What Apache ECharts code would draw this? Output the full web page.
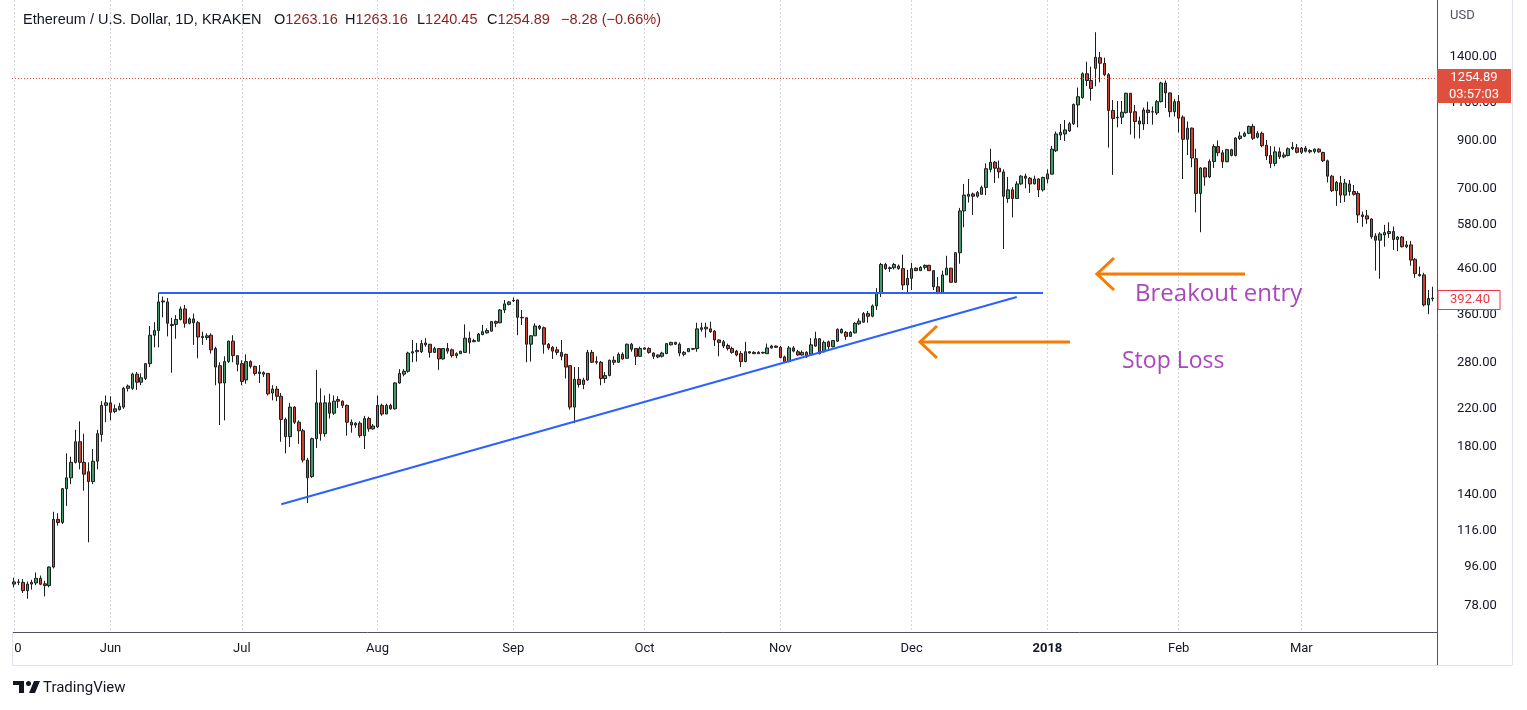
<!DOCTYPE html>
<html><head><meta charset="utf-8">
<script src="https://cdn.jsdelivr.net/npm/echarts@6/dist/echarts.min.js"></script>
<style>
html,body{margin:0;padding:0;background:#fff;width:1527px;height:710px;overflow:hidden;}
#chart{position:absolute;left:12px;top:0;width:1515px;height:710px;}
</style></head><body><div id="chart"></div>
<script>
// ---------------- DATA (ETH/USD daily, Kraken) : [open, close, low, high] ----------------
const firstDate = '2017-05-10';
const skippedDates = ['2018-01-11']; // no bar (exchange outage)
const may17 = [[87.5,88.5,86,90.5],[88.5,88.3,87,89.8],[88.3,84.5,83.5,89.8],[84.5,87.5,81,88.7],[87.5,88.3,85,89.5],[88,90.2,87,93],[90.2,87.4,87,91.5],[87.6,86.8,82,89],[86.8,95.7,86,96],[95.7,123,95,128],[123,121,119,127],[121,144.5,120,145],[144.5,153,132,174],[153,166,148,171],[166,185,165,197],[185,166,160,206],[166,156,143,193],[158,150,109,166],[150,167,148,178],[167,193,160,197],[192,224,185,229],[224,227,205,236]];
const jun17 = [[227,216,207,235],[217,220,215,225],[219,223,218,227],[222,245,220,247],[245,248,241,250],[245,264,243,266],[264,253,243,267],[253,259,249,265],[258,279,256,280],[279,324,274,340],[324,332,304,347],[332,386,304,405],[386,388,356,397],[386,345,322,394],[341,343,266,355],[343,352,318,360],[352,372,350,377],[372,345,337,380],[345,353,343,356],[353,346,308,363],[346,321,287,349],[322,320,308,330],[320,323,316,327],[324,300,294,327],[302,274,249,305],[276,252,202,281],[252,282,207,290],[282,314,280,315],[314,291,281,324],[291,278,268,291]];
const jul17 = [[279,254,249,284],[256,282,251,293],[282,275,272,284],[275,265,262,276],[267,265,252,277],[264,266,260,268],[265,238,236,265],[239,244,230,249],[244,235,229,248],[235,208,185,239],[208,190,174,210],[190,222,180,227],[222,205,203,223],[205,196,183,207],[196,168,166,198],[168,153,134,170],[154,188,153,189],[188,227,179,270],[227,193,186,245],[193,227,190,236],[227,215,209,238],[215,229,213,236],[231,229,221,235],[229,224,221,230],[224,205,191,225],[205,202,194,208],[202,204,199,205],[204,191,189,206],[191,209,178,212],[209,198,195,211],[198,201,197,203]];
const aug17 = [[200,224,199,236],[224,214,212,226],[214,224,214,226],[224,220,219,226],[220,252,219,253],[252,265,251,271],[264,268,261,271],[268,295,266,297],[295,297,281,316],[297,299,282,311],[297,310,295,316],[311,308,305,319],[309,296,288,309],[296,302,295,305],[302,286,270,302],[286,302,285,303],[302,298,294,311],[300,291,288,302],[291,294,287,296],[294,298,294,298],[296,319,295,343],[319,312,294,330],[313,315,313,318],[314,326,313,328],[325,330,324,342],[328,332,327,336],[331,348,331,349],[348,345,338,350],[346,370,345,372],[370,382,364,390],[381,386,379,388]];
const sep17 = [[388,389,386,395],[390,356,324,391],[355,356,342,370],[355,309,281,356],[309,323,282,324],[323,340,323,345],[340,336,333,342],[337,309,294,339],[309,303,300,311],[304,298,286,306],[300,296,292,305],[296,290,284,316],[293,274,258,294],[276,222,219,276],[222,257,204,274],[257,250,246,274],[250,256,244,259],[256,296,255,300],[296,281,280,300],[282,281,278,290],[281,258,249,283],[258,262,252,267],[262,284,261,285],[284,281,277,290],[281,293,280,296],[293,286,285,296],[287,309,286,310],[309,301,297,311],[302,290,277,303],[290,302,289,305]];
const oct17 = [[301,303,300,304],[302,296,294,304],[295,290,286,296],[289,292,287,293],[290,295,288,297],[294,310,294,311],[308,312,307,313],[312,309,308,313],[309,295,290,312],[293,296,290,298],[297,302,297,303],[302,301,300,303],[302,335,297,346],[334,337,330,346],[338,335,320,346],[335,330,328,348],[331,316,306,333],[316,312,290,317],[313,306,303,316],[307,302,299,310],[302,296,294,305],[298,292,290,300],[294,282,274,298],[282,297,281,313],[297,295,294,298],[296,294,294,298],[294,296,294,298],[296,295,294,297],[294,303,294,310],[303,306,302,308],[306,304,303,307]];
const nov17 = [[304,288,287,306],[289,282,280,291],[282,303,281,306],[303,298,296,306],[297,292,291,300],[292,296,291,299],[296,289,288,298],[293,308,292,319],[306,318,305,330],[318,294,293,319],[297,312,296,315],[313,305,299,315],[305,315,304,316],[314,334,313,336],[334,328,327,336],[329,322,316,331],[322,329,321,331],[328,345,327,347],[344,349,342,354],[347,363,346,366],[363,358,346,368],[358,378,356,381],[378,406,370,415],[404,470,396,474],[470,460,457,474],[460,462,452,465],[462,470,458,474],[466,460,457,470],[460,422,411,495],[422,437,402,457]];
const dec17 = [[437,460,411,474],[461,455,454,463],[455,463,454,466],[463,468,458,470],[468,455,454,469],[455,418,411,456],[418,405,402,440],[405,445,404,455],[445,461,445,492],[461,428,427,462],[428,500,427,501],[500,623,472,633],[623,677,572,718],[673,680,651,737],[681,673,610,686],[673,686,668,692],[680,705,678,712],[705,778,677,800],[775,805,763,864],[805,780,722,810],[780,765,740,812],[765,673,510,775],[665,696,650,745],[696,665,602,706],[665,718,664,728],[718,748,715,752],[748,740,702,758],[740,718,685,745],[718,737,717,750],[737,696,670,740],[696,743,690,746]];
const jan18 = [[737,757,720,775],[756,862,754,877],[855,934,849,946],[929,942,905,984],[934,954,900,1005],[949,985,944,995],[985,1091,980,1096],[1088,1136,967,1192],[1131,1282,1124,1292],[1282,1237,1202,1366],[1237,1186,1113,1331],[1319,1398,1200,1595],[1395,1355,1225,1437],[1354,1276,1265,1395],[1276,1057,869,1287],[1057,1013,753,1117],[1016,1020,967,1111],[1020,1047,984,1111],[1045,1157,1040,1160],[1157,1045,931,1157],[1050,997,912,1088],[1000,984,912,1023],[984,1059,954,1073],[1059,1045,984,1107],[1048,1050,981,1079],[1043,1107,1032,1117],[1107,1221,1102,1229],[1221,1159,1070,1237],[1159,1050,1020,1162],[1050,1107,1023,1123]];
const feb18 = [[1108,1015,941,1146],[1020,908,737,1030],[908,963,836,997],[963,823,784,966],[820,683,618,864],[683,781,557,784],[781,745,711,784],[745,808,740,817],[808,874,781,885],[874,846,831,903],[846,807,781,858],[807,860,805,864],[860,834,830,864],[834,914,830,918],[912,924,905,945],[923,937,918,945],[937,972,933,976],[972,913,905,985],[918,937,912,948],[937,878,871,946],[880,832,814,905],[834,800,780,876],[800,850,788,874],[850,828,819,870],[828,836,822,848],[834,864,830,870],[864,871,858,895],[868,848,843,886]];
const mar18 = [[848,867,840,872],[867,853,847,876],[856,850,843,862],[852,862,843,866],[862,850,846,866],[847,811,806,851],[811,748,724,816],[748,693,688,753],[693,724,640,729],[722,677,650,749],[677,721,653,737],[718,690,675,733],[690,680,675,714],[683,610,585,691],[610,605,573,621],[607,597,582,626],[597,544,538,599],[546,534,455,554],[534,552,436,557],[549,556,516,579],[553,559,541,587],[559,536,507,574],[536,543,504,546],[543,516,514,546],[516,521,512,532],[521,481,467,532],[483,448,438,486],[446,443,441,465],[445,380,377,450],[380,393,362,411],[394,392.4,387,418]];

const priceTicks = [78, 96, 116, 140, 180, 220, 280, 360, 460, 580, 700, 900, 1100, 1400];
const lastPrice = 1254.89;
const visibleClose = 392.40;
const breakoutLevel = 405;              // Jun 12 high, horizontal resistance
const breakoutSpan = [33, 235];         // bar indices (Jun 12 -> Dec 31)
const supportLine = [[61, 133.2], [229, 396]]; // rising trendline [barIndex, price]
const headerInfo = {name: 'Ethereum / U.S. Dollar, 1D, KRAKEN', O: '1263.16', H: '1263.16', L: '1240.45', C: '1254.89', chg: '\u22128.28 (\u22120.66%)'};

// ---------------- BUILD ----------------
const ohlc = [].concat(may17, jun17, jul17, aug17, sep17, oct17, nov17, dec17, jan18, feb18, mar18);
const dates = [];
{
  let t = Date.parse(firstDate + 'T00:00:00Z');
  while (dates.length < ohlc.length) {
    const s = new Date(t).toISOString().slice(0, 10);
    if (!skippedDates.includes(s)) dates.push(s);
    t += 86400000;
  }
}
const monthNames = ['Jan','Feb','Mar','Apr','May','Jun','Jul','Aug','Sep','Oct','Nov','Dec'];
const isTick = (i) => i === 0 || dates[i].slice(8) === '01';

const yMin = 68.0, yMax = 1889.5;
const OX = 12;                  // container left offset on page
const X = (x) => x - OX;
const band = 4.378;
const gridW = ohlc.length * band;

const FONT = 'Roboto, "Liberation Sans", sans-serif';
const TXT = '#131722';
const VAL = '#8b1d1d';
const ORANGE = '#f57c00';
const PURPLE = '#ab47bc';
const BLUE = '#2962ff';
const PRICE_RED = '#df4f3d';

const chart = echarts.init(document.getElementById('chart'), null, {renderer: 'canvas'});

function hdr(x, label, value) {
  return {type: 'text', x: X(x), y: 20, z: 100, style: {
    text: (label ? '{l|' + label + '}' : '') + '{v|' + value + '}',
    verticalAlign: 'middle', align: 'left',
    rich: {l: {fontFamily: '"Liberation Sans", sans-serif', fontSize: 14.5, fill: TXT, color: TXT},
           v: {fontFamily: '"Liberation Sans", sans-serif', fontSize: 14.5, fill: VAL, color: VAL}}
  }};
}
function seg(x1, y1, x2, y2, color, w, z) {
  return {type: 'line', z: z || 100, shape: {x1: X(x1), y1: y1, x2: X(x2), y2: y2}, style: {stroke: color, lineWidth: w}};
}

const graphics = [
  {type: 'text', x: X(23), y: 20, z: 100, style: {text: headerInfo.name, fontFamily: '"Liberation Sans", sans-serif', fontSize: 14.5, fill: TXT, verticalAlign: 'middle'}},
  hdr(274, 'O', headerInfo.O), hdr(345, 'H', headerInfo.H), hdr(417, 'L', headerInfo.L), hdr(487, 'C', headerInfo.C), hdr(561, '', headerInfo.chg),
  {type: 'text', x: X(1450), y: 16, z: 100, style: {text: 'USD', fontFamily: FONT, fontSize: 13, fill: '#50535e', verticalAlign: 'middle'}},
  // frame lines
  seg(1437.5, 0, 1437.5, 665, '#50535e', 1),
  seg(1434, 632.5, 1437, 632.5, '#50535e', 1),
  seg(12, 665.5, 1512, 665.5, '#e0e3eb', 1),
  seg(12.5, 632, 12.5, 665, '#e0e3eb', 1),
  seg(1512.5, 0, 1512.5, 665, '#e0e3eb', 1),
  // last price box
  {type: 'rect', z: 110, shape: {x: X(1437), y: 69, width: 74, height: 34}, style: {fill: PRICE_RED}},
  {type: 'text', z: 111, x: X(1474), y: 78, style: {text: '1254.89', fontFamily: FONT, fontSize: 13, fill: '#fff', align: 'center', verticalAlign: 'middle'}},
  {type: 'text', z: 111, x: X(1474), y: 95, style: {text: '03:57:03', fontFamily: FONT, fontSize: 13, fill: '#fff', align: 'center', verticalAlign: 'middle'}},
  // visible close box
  {type: 'rect', z: 110, shape: {x: X(1438), y: 290.5, width: 62, height: 19}, style: {fill: '#fff', stroke: '#f23645', lineWidth: 1}},
  {type: 'text', z: 111, x: X(1470), y: 300, style: {text: '392.40', fontFamily: FONT, fontSize: 13, fill: '#f23645', align: 'center', verticalAlign: 'middle'}},
  // arrows
  {type: 'polyline', z: 100, shape: {points: [[X(1114), 258], [X(1097), 274], [X(1114), 290]]}, style: {stroke: ORANGE, lineWidth: 3, fill: null}},
  seg(1098, 274, 1245, 274, ORANGE, 3),
  {type: 'polyline', z: 100, shape: {points: [[X(937), 326], [X(920), 342], [X(937), 358]]}, style: {stroke: ORANGE, lineWidth: 3, fill: null}},
  seg(921, 342, 1070, 342, ORANGE, 3),
  {type: 'text', z: 100, x: X(1135), y: 294, style: {text: 'Breakout entry', fontFamily: '"Open Sans", sans-serif', fontSize: 24, fill: PURPLE, verticalAlign: 'middle'}},
  {type: 'text', z: 100, x: X(1122), y: 361, style: {text: 'Stop Loss', fontFamily: '"Open Sans", sans-serif', fontSize: 23, fill: PURPLE, verticalAlign: 'middle'}},
  // TradingView logo
  {type: 'rect', z: 100, shape: {x: X(13), y: 681, width: 11, height: 4}, style: {fill: TXT}},
  {type: 'rect', z: 100, shape: {x: X(19), y: 681, width: 5, height: 12}, style: {fill: TXT}},
  {type: 'circle', z: 100, shape: {cx: X(28.5), cy: 683.5, r: 2.5}, style: {fill: TXT}},
  {type: 'polygon', z: 100, shape: {points: [[X(29), 693], [X(34), 681], [X(40), 681], [X(35), 693]]}, style: {fill: TXT}},
  {type: 'text', z: 100, x: X(43), y: 688, style: {text: 'TradingView', fontFamily: FONT, fontSize: 15, fill: TXT, verticalAlign: 'middle'}}
];

const option = {
  animation: false,
  backgroundColor: '#ffffff',
  grid: {left: 0, top: 0, width: gridW, height: 632, outerBoundsMode: 'none', containLabel: false},
  xAxis: {
    type: 'category', data: dates, boundaryGap: true,
    axisLine: {show: true, lineStyle: {color: '#50535e', width: 1}},
    axisTick: {show: false},
    axisLabel: {
      interval: (i) => isTick(i), margin: 10, color: TXT, fontFamily: FONT, fontSize: 13,
      formatter: (v, i) => {
        if (v.slice(8) === '01') {
          const m = +v.slice(5, 7);
          return m === 1 ? '{b|' + v.slice(0, 4) + '}' : monthNames[m - 1];
        }
        return String(+v.slice(8));
      },
      rich: {b: {fontWeight: 'bold', fontFamily: FONT, fontSize: 13, color: TXT}}
    },
    splitLine: {show: true, interval: (i) => isTick(i), alignWithLabel: true, lineStyle: {color: '#d5d8df', type: [2, 2], width: 1}}
  },
  yAxis: [
    {type: 'log', logBase: 10, min: yMin, max: yMax, position: 'right',
     axisLine: {show: false}, axisTick: {show: false}, axisLabel: {show: false}, splitLine: {show: false}},
    {type: 'value', min: Math.log(yMin), max: Math.log(yMax), position: 'right',
     axisLine: {show: false}, axisTick: {show: false}, splitLine: {show: false},
     axisLabel: {customValues: priceTicks.map(Math.log), formatter: (v) => Math.exp(v).toFixed(2),
                 align: 'right', margin: 62, padding: [3, 0, 0, 0], color: TXT, fontFamily: FONT, fontSize: 13}}
  ],
  series: [{
    type: 'candlestick', data: ohlc, yAxisIndex: 0, barWidth: 3, clip: false,
    itemStyle: {color: '#3f9a67', color0: '#cf3f2d', borderColor: '#1d1d1d', borderColor0: '#1d1d1d', borderWidth: 1},
    markLine: {
      silent: true, animation: false, symbol: ['none', 'none'], label: {show: false},
      data: [
        [{coord: [breakoutSpan[0], breakoutLevel], lineStyle: {color: BLUE, width: 2, type: 'solid'}}, {coord: [breakoutSpan[1], breakoutLevel]}],
        [{coord: supportLine[0], lineStyle: {color: BLUE, width: 2, type: 'solid'}}, {coord: supportLine[1]}],
        {yAxis: lastPrice, lineStyle: {color: PRICE_RED, width: 1, type: [1, 2]}}
      ]
    }
  }],
  graphic: graphics
};
chart.setOption(option);
</script>
</body></html>
